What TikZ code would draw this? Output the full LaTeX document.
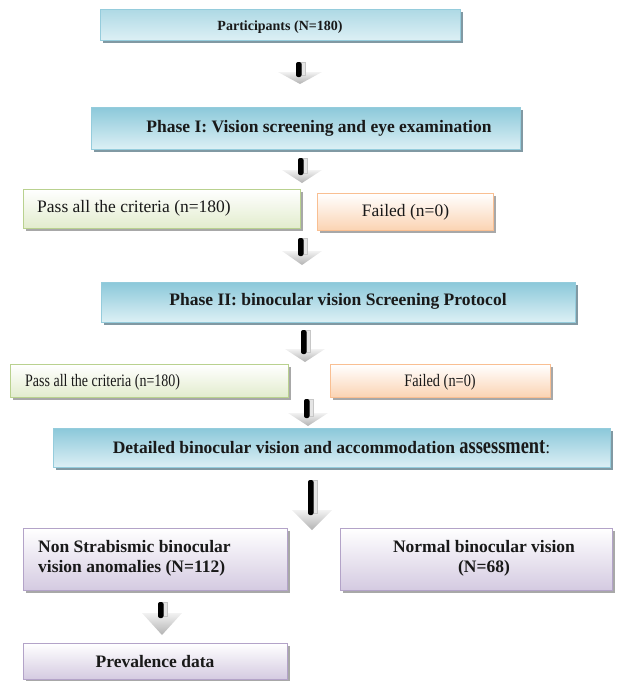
\documentclass[tikz,border=0pt]{standalone}
\usepackage{fontspec}
\setmainfont{Liberation Serif}
\usetikzlibrary{shadows}
\definecolor{blueTop}{HTML}{8CC9DA}
\definecolor{blueBot}{HTML}{DDF0F5}
\definecolor{blueLine}{HTML}{95CCDC}
\definecolor{blueShadow}{HTML}{8199A3}
\definecolor{greenLine}{HTML}{B9D18F}
\definecolor{greenBot}{HTML}{E2ECCD}
\definecolor{orangeLine}{HTML}{F9BF92}
\definecolor{orangeBot}{HTML}{FBD3B2}
\definecolor{purpleLine}{HTML}{B3A3C8}
\definecolor{purpleBot}{HTML}{D4CAE1}
\definecolor{greyShadow}{HTML}{A8A8A8}
\tikzset{
  boxbase/.style={draw, line width=1pt, inner sep=0pt, anchor=north west},
  bluebox/.style={boxbase, draw=blueLine, top color=blueTop, bottom color=blueBot,
    drop shadow={shadow xshift=2.5pt, shadow yshift=-2.5pt, fill=blueShadow, opacity=1}},
  greenbox/.style={boxbase, draw=greenLine, top color=white, bottom color=greenBot,
    drop shadow={shadow xshift=2.5pt, shadow yshift=-2.5pt, fill=greyShadow, opacity=1}},
  orangebox/.style={boxbase, draw=orangeLine, top color=white, bottom color=orangeBot,
    drop shadow={shadow xshift=2.5pt, shadow yshift=-2.5pt, fill=greyShadow, opacity=1}},
  purplebox/.style={boxbase, draw=purpleLine, top color=white, bottom color=purpleBot,
    drop shadow={shadow xshift=2.5pt, shadow yshift=-2.5pt, fill=greyShadow, opacity=1}},
  btxt/.style={font=\fontsize{17.5}{20}\selectfont\bfseries, inner sep=0pt, text=black!90},
  rtxt/.style={font=\fontsize{17.5}{20}\selectfont, inner sep=0pt, text=black!90},
}
% name, cx, top, headtop, bottom, half width of head
\newcommand\dnarrow[6]{%
  \coordinate (#1) at (#2,#3);
  \shade[top color=black!5, bottom color=black!30] (#2-#6,#4) -- (#2+#6,#4) -- (#2,#5) -- cycle;
  \fill[black!10, draw=black!22, line width=0.4pt] (#2+1.5,#3) rectangle (#2+5,#4+3);
  \fill[black, rounded corners=2pt] (#2-4,#3) -- (#2-4,#4+5) -- (#2+1.5,#4+5) -- (#2+1.5,#3) -- cycle;
}
\begin{document}
\begin{tikzpicture}[x=1pt, y=-1pt]
\useasboundingbox (0,0) rectangle (627,681);
% boxes
\node[bluebox, top color=blueTop!70, minimum width=360pt, minimum height=31pt] (part) at (100,9) {};
\node[bluebox, minimum width=429pt, minimum height=42pt] (ph1) at (91,107) {};
\node[greenbox, minimum width=277pt, minimum height=39pt] (pass1) at (23,189) {};
\node[orangebox, minimum width=176pt, minimum height=37pt] (fail1) at (317,193) {};
\node[bluebox, minimum width=474pt, minimum height=40pt] (ph2) at (101,282) {};
\node[greenbox, minimum width=278pt, minimum height=33pt] (pass2) at (10,364) {};
\node[orangebox, minimum width=220pt, minimum height=33pt] (fail2) at (330,364) {};
\node[bluebox, minimum width=557pt, minimum height=39pt] (det) at (53,428) {};
\node[purplebox, minimum width=264pt, minimum height=62pt] (nsb) at (23,528) {};
\node[purplebox, minimum width=272pt, minimum height=62pt] (nbv) at (340,528) {};
\node[purplebox, minimum width=264pt, minimum height=36pt] (prev) at (23,643) {};
% texts
\node[btxt, font=\fontsize{14}{16}\selectfont\bfseries, anchor=base] (tpart) at (280,30.5) {Participants (N=180)};
\node[btxt, anchor=base] (tph1) at (319,132) {Phase I: Vision screening and eye examination};
\node[rtxt, anchor=base west] (tpass1) at (37,212) {Pass all the criteria (n=180)};
\node[rtxt, anchor=base] (tfail1) at (405.5,216) {Failed (n=0)};
\node[btxt, anchor=base] (tph2) at (338,305.5) {Phase II: binocular vision Screening Protocol};
\node[rtxt, anchor=base west] (tpass2) at (25,386) {\scalebox{0.8}[1]{Pass all the criteria (n=180)}};
\node[rtxt, anchor=base] (tfail2) at (440,386) {\scalebox{0.82}[1]{Failed (n=0)}};
\node[btxt, anchor=base] (tdet) at (331.5,453) {Detailed binocular vision and accommodation {\fontsize{23}{23}\selectfont\scalebox{0.8}[1]{assessment}}{\mdseries:}};
\node[btxt, anchor=base west, align=left] (tnsb) at (38,572) {Non Strabismic binocular\\vision anomalies (N=112)};
\node[btxt, anchor=base, align=center] (tnbv) at (484,572) {Normal binocular vision\\(N=68)};
\node[btxt, anchor=base] (tprev) at (155,667) {Prevalence data};
% block arrows
\dnarrow{a1}{300}{62}{72}{84}{22}
\dnarrow{a2}{302}{158}{170}{183}{20}
\dnarrow{a3}{302}{238}{251}{265}{20}
\dnarrow{a4}{305}{330}{349}{362}{20}
\dnarrow{a5}{308}{399}{413}{426}{20}
\dnarrow{a6}{312}{480}{510}{530}{20}
\dnarrow{a7}{162}{602}{613}{635}{20}
\end{tikzpicture}
\end{document}
